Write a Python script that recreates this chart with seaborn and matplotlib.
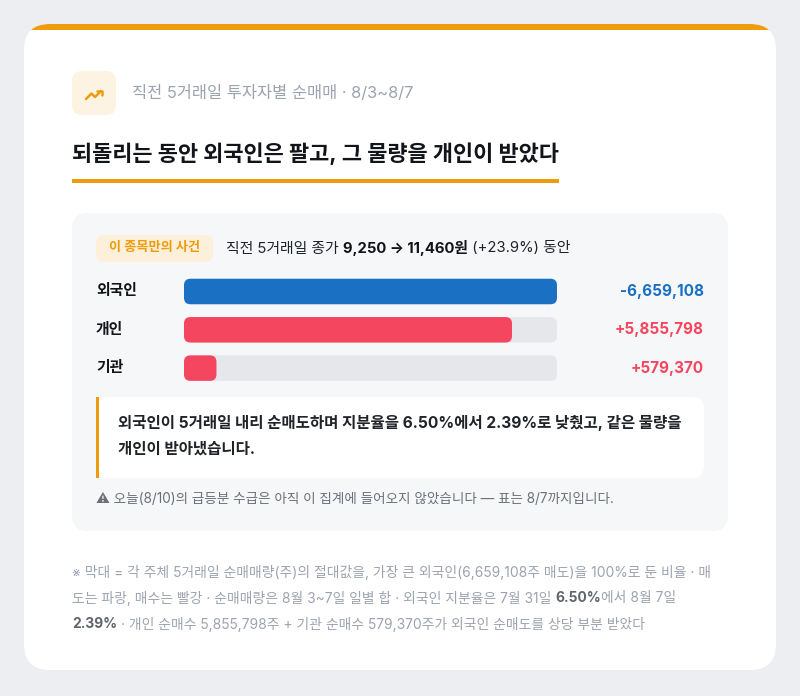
#!/usr/bin/env python3
# coding: utf-8
"""
직전 5거래일 투자자별 순매매 카드 (8/3~8/7) — seaborn 가로 막대
"""

import numpy as np
import pandas as pd
import seaborn as sns
import matplotlib
matplotlib.use("Agg")
import matplotlib.pyplot as plt
from matplotlib.patches import FancyBboxPatch, Rectangle

# ------------------------- 0. 데이터 -------------------------------
INVESTORS = ["외국인", "개인", "기관"]
NET_SHARES = [-6659108, 5855798, 579370]      # 8/3~8/7 일별 합
PRICE_START = 9250
PRICE_END = 11460
PRICE_PCT = 23.9
STAKE_BEFORE = 6.50                           # 7/31 외국인 지분율
STAKE_AFTER = 2.39                            # 8/7

SUBTITLE = "직전 5거래일 투자자별 순매매 · 8/3~8/7"
TITLE = "되돌리는 동안 외국인은 팔고, 그 물량을 개인이 받았다"
BADGE = "이 종목만의 사건"
WARN = "⚠ 오늘(8/10)의 급등분 수급은 아직 이 집계에 들어오지 않았습니다 — 표는 8/7까지입니다."

# ------------------------- 1. 스타일 -------------------------------
BG = "#eceef2"
ORANGE = "#ef9c0c"
BLUE = "#1a70c2"
RED = "#f5465f"
TRACK = "#e5e7eb"
PANEL = "#f6f7f9"
INK = "#1f2329"
GRAY = "#9ca3af"

sns.set_theme(style="white")
# Inter 로 숫자/라틴, 한글은 Noto CJK 로 넘김
plt.rcParams["font.family"] = ["Inter", "Noto Sans CJK KR", "DejaVu Sans"]
plt.rcParams["axes.unicode_minus"] = False

W, H = 800, 696
fig = plt.figure(figsize=(W / 100, H / 100), dpi=100, facecolor=BG)
bg = fig.add_axes([0, 0, 1, 1])
bg.set_xlim(0, W)
bg.set_ylim(H, 0)
bg.axis("off")
renderer = fig.canvas.get_renderer()


def rbox(x, y, w, h, r, color, z=1, **kw):
    p = FancyBboxPatch((x, y), w, h, boxstyle=f"round,pad=0,rounding_size={r}",
                       fc=color, ec="none", zorder=z, **kw)
    bg.add_patch(p)
    return p


def rich(x, y, parts, size, va="center"):
    """여러 굵기/색 조각을 한 줄로 이어 붙이기"""
    for txt, weight, color in parts:
        t = bg.text(x, y, txt, fontsize=size, fontweight=weight, color=color,
                    ha="left", va=va, zorder=5)
        x += t.get_window_extent(renderer).width
    return x


# ------------------------- 2. 카드 ---------------------------------
card = rbox(24, 24, 752, 646, 26, "white", z=1)
strip = Rectangle((24, 24), 752, 6, fc=ORANGE, ec="none", zorder=2)
bg.add_patch(strip)
strip.set_clip_path(card)

# 아이콘
rbox(72, 71, 44, 44, 10, "#fdf3e2", z=2)
bg.plot([86, 91.5, 95, 101], [99, 93.5, 97, 91], color=ORANGE, lw=1.8,
        solid_capstyle="round", solid_joinstyle="round", zorder=3)
bg.plot([97, 101.5, 101.5], [90.5, 90.5, 95], color=ORANGE, lw=1.8,
        solid_capstyle="round", solid_joinstyle="round", zorder=3)

bg.text(132, 93, SUBTITLE, fontsize=11.8, color=GRAY, va="center", ha="left")
t = bg.text(72, 154, TITLE, fontsize=15.8, fontweight="bold", color="#111418",
            va="center", ha="left")
tw = t.get_window_extent(renderer).width
bg.add_patch(Rectangle((72, 179), tw, 4, fc=ORANGE, ec="none", zorder=2))

# ------------------------- 3. 패널 ---------------------------------
rbox(72, 213, 656, 318, 16, PANEL, z=2)
rbox(96, 235, 117, 27, 8, "#fdf0da", z=3)
bg.text(154.5, 248.5, BADGE, fontsize=9.5, fontweight="bold", color=ORANGE,
        ha="center", va="center", zorder=5)
rich(226, 248.5, [
    ("직전 5거래일 종가 ", "normal", INK),
    (f"{PRICE_START:,} → {PRICE_END:,}원", "bold", "#111418"),
    (f" (+{PRICE_PCT}%) 동안", "normal", INK),
], 10.7)

# 막대: 외국인 절대값 = 100%
df = pd.DataFrame({"investor": INVESTORS, "net": NET_SHARES})
df["share"] = df["net"].abs() / df["net"].abs().max() * 100
df["color"] = np.where(df["net"] < 0, BLUE, RED)

ROW0, STEP, BAR_H = 291.5, 38.3, 25.5
top = ROW0 - STEP / 2
bax = fig.add_axes([184 / W, 1 - (top + 3 * STEP) / H, 373 / W, 3 * STEP / H])
bax.set_facecolor("none")
sns.barplot(x=[100] * len(INVESTORS), y=INVESTORS, color=TRACK, orient="h",
            width=BAR_H / STEP, ax=bax, saturation=1)
sns.barplot(data=df, x="share", y="investor", hue="investor",
            palette=list(df["color"]), orient="h", width=BAR_H / STEP,
            ax=bax, legend=False, saturation=1)
bax.set_xlim(0, 100)
bax.set_ylim(2.5, -0.5)
bax.axis("off")

# 직사각형 → 둥근 막대
px_x = 373 / 100          # px per x unit
px_y = STEP               # px per y unit
for p in list(bax.patches):
    x0, y0, w, h = p.get_x(), p.get_y(), p.get_width(), p.get_height()
    fc = p.get_facecolor()
    p.remove()
    if w <= 0:
        continue
    r = min(6.5, w * px_x / 2) / px_x
    bax.add_patch(FancyBboxPatch((x0, y0), w, h,
                                 boxstyle=f"round,pad=0,rounding_size={r}",
                                 mutation_aspect=px_x / px_y,
                                 fc=fc, ec="none"))

for i, row in df.iterrows():
    yc = ROW0 + i * STEP
    bg.text(96, yc, row["investor"], fontsize=10.7, fontweight="bold",
            color="#111418", ha="left", va="center", zorder=5)
    bg.text(704, yc, f"{row['net']:+,}", fontsize=11, fontweight="bold",
            color=row["color"], ha="right", va="center", zorder=5)

# 요약 박스
rbox(96, 397, 608, 81, 12, "white", z=3)
bg.add_patch(Rectangle((96, 397), 3, 81, fc=ORANGE, ec="none", zorder=4))
bg.text(118, 423, f"외국인이 5거래일 내리 순매도하며 지분율을 {STAKE_BEFORE:.2f}%에서 "
        f"{STAKE_AFTER:.2f}%로 낮췄고, 같은 물량을", fontsize=11.2,
        fontweight="bold", color="#202428", ha="left", va="center", zorder=5)
bg.text(118, 449, "개인이 받아냈습니다.", fontsize=11.2, fontweight="bold",
        color="#202428", ha="left", va="center", zorder=5)

bg.text(96, 499, WARN, fontsize=9.75, color="#6b7078", ha="left", va="center",
        zorder=5)

# ------------------------- 4. 각주 ---------------------------------
FN = 9.95
FN_BOLD = "#60656d"
foreign = abs(NET_SHARES[0])
rich(72, 572, [
    (f"※ 막대 = 각 주체 5거래일 순매매량(주)의 절대값을, 가장 큰 외국인({foreign:,}주 매도)을 "
     "100%로 둔 비율 · 매", "normal", GRAY),
], FN)
rich(72, 598, [
    ("도는 파랑, 매수는 빨강 · 순매매량은 8월 3~7일 일별 합 · 외국인 지분율은 7월 31일 ",
     "normal", GRAY),
    (f"{STAKE_BEFORE:.2f}%", "bold", FN_BOLD),
    ("에서 8월 7일", "normal", GRAY),
], FN)
rich(72, 624, [
    (f"{STAKE_AFTER:.2f}%", "bold", FN_BOLD),
    (f" · 개인 순매수 {NET_SHARES[1]:,}주 + 기관 순매수 {NET_SHARES[2]:,}주가 "
     "외국인 순매도를 상당 부분 받았다", "normal", GRAY),
], FN)

fig.savefig("out.png", dpi=100, facecolor=BG)
